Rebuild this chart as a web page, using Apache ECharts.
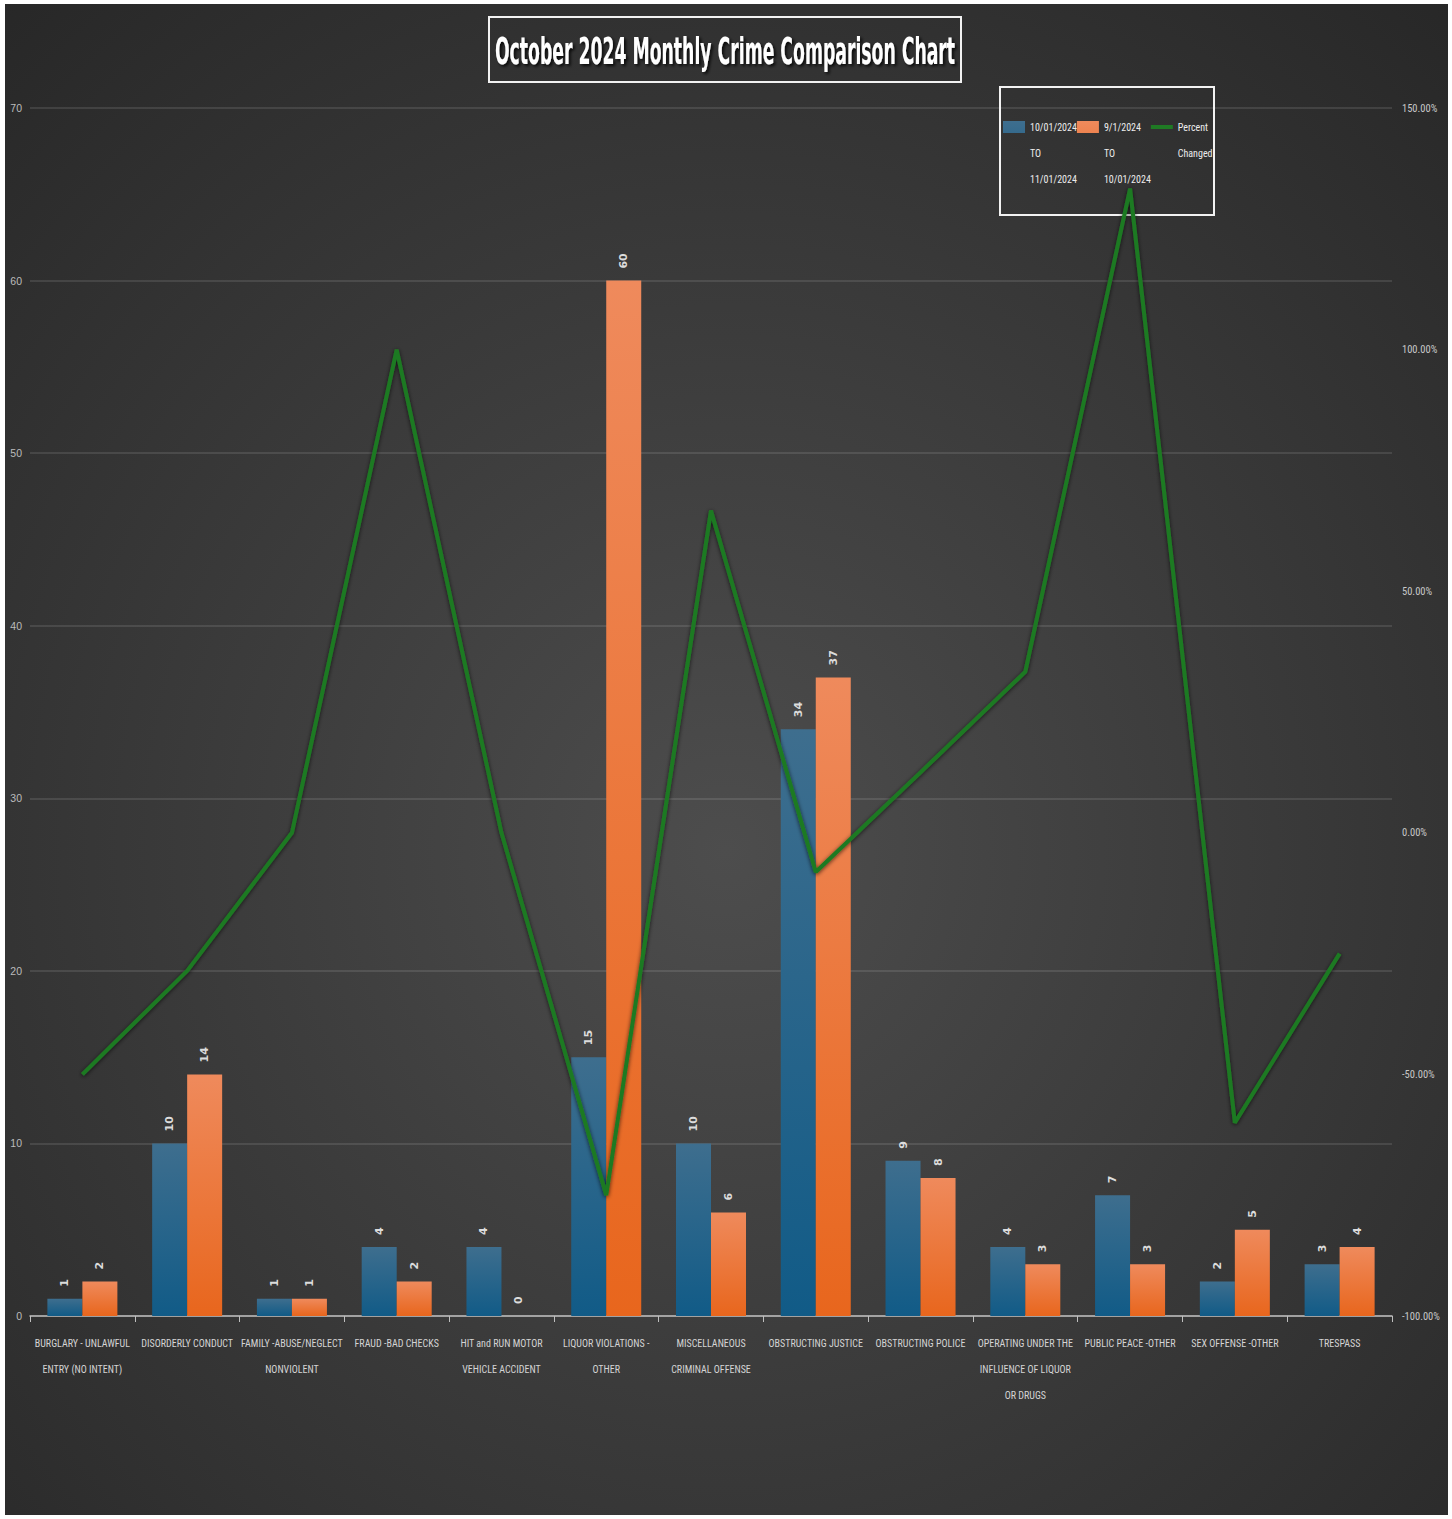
<!DOCTYPE html>
<html><head><meta charset="utf-8">
<script src="https://cdn.jsdelivr.net/npm/echarts@6/dist/echarts.min.js"></script>
<style>html,body{margin:0;padding:0;background:#fff;} #c{position:absolute;left:5px;top:4px;width:1443px;height:1511px;}</style>
</head><body><div id="c"></div>
<script>
const titleText = 'October 2024 Monthly Crime Comparison Chart';
const categories = [
  'BURGLARY - UNLAWFUL\nENTRY (NO INTENT)',
  'DISORDERLY CONDUCT',
  'FAMILY -ABUSE/NEGLECT\nNONVIOLENT',
  'FRAUD -BAD CHECKS',
  'HIT and RUN MOTOR\nVEHICLE ACCIDENT',
  'LIQUOR VIOLATIONS -\nOTHER',
  'MISCELLANEOUS\nCRIMINAL OFFENSE',
  'OBSTRUCTING JUSTICE',
  'OBSTRUCTING POLICE',
  'OPERATING UNDER THE\nINFLUENCE OF LIQUOR\nOR DRUGS',
  'PUBLIC PEACE -OTHER',
  'SEX OFFENSE -OTHER',
  'TRESPASS'
];
const seriesNames = ['10/01/2024\nTO\n11/01/2024', '9/1/2024\nTO\n10/01/2024', 'Percent\nChanged'];
const currentPeriod = [1, 10, 1, 4, 4, 15, 10, 34, 9, 4, 7, 2, 3];
const previousPeriod = [2, 14, 1, 2, 0, 60, 6, 37, 8, 3, 3, 5, 4];
const percentChanged = [-0.5, -0.2857, 0, 1, 0, -0.75, 0.6667, -0.0811, 0.125, 0.3333, 1.3333, -0.6, -0.25];
const countTicks = {min: 0, max: 70, interval: 10};
const percentTicks = {min: -1, max: 1.5, interval: 0.5};

const chart = echarts.init(document.getElementById('c'), null, {renderer: 'svg'});
const barLabel = {
  show: true, position: 'top', distance: 12, rotate: 90, align: 'left', verticalAlign: 'middle',
  color: '#dcdcdc', fontFamily: 'DejaVu Sans', fontWeight: 'bold', fontSize: 11
};
const boxIcon = 'path://M0,0L22,0L22,12L0,12Z M0,64L0,64Z';
const lineIcon = 'path://M0,0L0,0Z M0,4L22,4L22,8L0,8Z M0,64L0,64Z';
chart.setOption({
  animation: false,
  backgroundColor: {type: 'radial', x: 0.5, y: 0.56, r: 0.78,
    colorStops: [{offset: 0, color: '#4d4d4d'}, {offset: 1, color: '#262626'}]},
  graphic: [
    {type: 'rect', shape: {x: 484, y: 13, width: 472, height: 65}, style: {fill: 'none', stroke: '#f2f2f2', lineWidth: 2}},
    {type: 'text', x: 720, y: 47, scaleX: 0.505, style: {text: titleText, fill: '#ffffff',
      font: 'bold 38px "DejaVu Sans Condensed", sans-serif', align: 'center', verticalAlign: 'middle',
      textShadowColor: 'rgba(0,0,0,0.8)', textShadowBlur: 3, textShadowOffsetX: 2, textShadowOffsetY: 2}},
    {type: 'rect', shape: {x: 995, y: 83, width: 214, height: 128}, style: {fill: 'none', stroke: '#f2f2f2', lineWidth: 2}}
  ],
  legend: {
    left: 998, top: 110, padding: 0, itemGap: 0, itemWidth: 22, itemHeight: 64,
    formatter: name => (name.split('\n').length < 3 ? name + '\n ' : name),
    textStyle: {color: '#ececec', fontFamily: '"Roboto Condensed", "DejaVu Sans Condensed"', fontSize: 10, lineHeight: 26},
    data: [
      {name: seriesNames[0], icon: boxIcon},
      {name: seriesNames[1], icon: boxIcon},
      {name: seriesNames[2], icon: lineIcon}
    ]
  },
  grid: {left: 25, right: 56, top: 104, bottom: 199, containLabel: false},
  xAxis: {
    type: 'category', data: categories,
    axisLine: {lineStyle: {color: '#bfbfbf', width: 1.5}},
    axisTick: {show: true, length: 6, lineStyle: {color: '#bfbfbf'}},
    axisLabel: {interval: 0, color: '#d4d4d4', fontFamily: '"Roboto Condensed", "DejaVu Sans Condensed"',
      fontSize: 10, lineHeight: 26, margin: 14}
  },
  yAxis: [
    {type: 'value', min: countTicks.min, max: countTicks.max, interval: countTicks.interval,
      axisLine: {show: false}, axisTick: {show: false},
      axisLabel: {color: '#bcbcbc', fontFamily: 'Liberation Sans', fontSize: 10.5, margin: 8},
      splitLine: {lineStyle: {color: 'rgba(255,255,255,0.14)', width: 1.5}}},
    {type: 'value', min: percentTicks.min, max: percentTicks.max, interval: percentTicks.interval,
      axisLine: {show: false}, axisTick: {show: false}, splitLine: {show: false},
      axisLabel: {color: '#c8c8c8', fontFamily: '"Roboto Condensed", "DejaVu Sans Condensed"', fontSize: 10.5, margin: 10,
        formatter: v => (v * 100).toFixed(2) + '%'}}
  ],
  series: [
    {name: seriesNames[0], type: 'bar', data: currentPeriod, barWidth: 35, barGap: '0%',
      itemStyle: {color: {type: 'linear', x: 0, y: 0, x2: 0, y2: 1,
        colorStops: [{offset: 0, color: '#3e6e8e'}, {offset: 1, color: '#115b87'}]}},
      label: barLabel},
    {name: seriesNames[1], type: 'bar', data: previousPeriod, barWidth: 35,
      itemStyle: {color: {type: 'linear', x: 0, y: 0, x2: 0, y2: 1,
        colorStops: [{offset: 0, color: '#ef8a5c'}, {offset: 1, color: '#e8661d'}]}},
      label: barLabel},
    {name: seriesNames[2], type: 'line', yAxisIndex: 1, data: percentChanged, symbol: 'none', z: 5,
      itemStyle: {color: '#1f7a24'},
      lineStyle: {color: '#1f7a24', width: 4, shadowColor: 'rgba(0,0,0,0.7)', shadowBlur: 4, shadowOffsetY: 1}}
  ]
});
</script></body></html>
